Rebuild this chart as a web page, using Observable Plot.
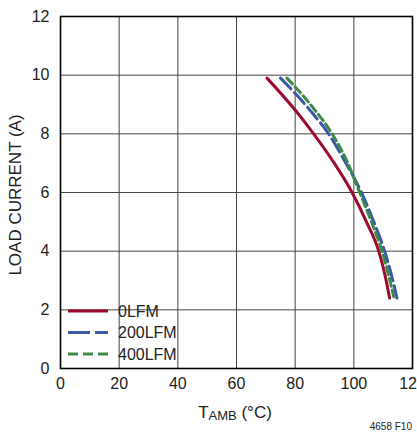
<!DOCTYPE html>
<html><head><meta charset="utf-8">
<script src="https://cdn.jsdelivr.net/npm/d3@7"></script>
<script src="https://cdn.jsdelivr.net/npm/@observablehq/plot@0.6"></script>
<style>
body{margin:0;background:#fff;}
#chart{position:relative;width:417px;height:437px;}
svg{font-family:"Liberation Sans Narrow","Arial Narrow","Liberation Sans",sans-serif;}
</style></head>
<body><div id="chart"></div>
<script>
const seriesNames = ["0LFM","200LFM","400LFM"];
const seriesColors = ["#9b0b2f","#3b58a8","#3c8a48"];
const seriesDash = [null,"15,5","8,4"];
const t0 = [70.4,80,86.3,93,99.4,104.3,108.5,110.7,112.2];
const i0 = [9.9,8.81,8.0,7.05,6.0,5.0,4.0,3.15,2.4];
const t200 = [75,80,85.5,91.4,97,102.6,106.8,110.5,112.8,114.7];
const i200 = [9.9,9.38,8.75,8.0,7.05,6.0,5.0,4.0,3.2,2.4];
const t400 = [77.2,80,86,92.6,97.5,102,106,109.6,111.8,113.6];
const i400 = [9.9,9.6,8.9,8.0,7.1,6.0,5.0,4.0,3.2,2.45];
const xTicks = [0,20,40,60,80,100,120];
const yTicks = [0,2,4,6,8,10,12];

const rows = [];
[[t0,i0],[t200,i200],[t400,i400]].forEach(([t,i],k)=>{
  t.forEach((v,j)=>rows.push({s:seriesNames[k],t:v,i:i[j]}));
});

const marks = [
  Plot.gridX(xTicks,{stroke:"#444",strokeOpacity:1,strokeWidth:1}),
  Plot.gridY(yTicks,{stroke:"#444",strokeOpacity:1,strokeWidth:1}),
  Plot.frame({stroke:"#000",strokeWidth:1.6}),
  Plot.axisX({ticks:xTicks,tickSize:0,tickPadding:9,label:null,fontSize:16,fill:"#222"}),
  Plot.axisY({ticks:yTicks,tickSize:0,tickPadding:11,label:null,fontSize:16,fill:"#222"})
];
seriesNames.forEach((n,k)=>{
  marks.push(Plot.line(rows.filter(r=>r.s===n),{x:"t",y:"i",stroke:seriesColors[k],strokeWidth:3,curve:"monotone-x",strokeDasharray:seriesDash[k]}));
});

const chart = Plot.plot({
  width:417,height:437,
  marginLeft:60,marginTop:16,marginRight:5,marginBottom:69,
  x:{domain:[0,120]},
  y:{domain:[0,12]},
  marks
});
document.getElementById("chart").appendChild(chart);

const svg = d3.select(chart);
// legend
const lg = svg.append("g").attr("text-anchor","start");
seriesNames.forEach((n,k)=>{
  const y = 311 + k*21.5;
  lg.append("line").attr("x1",68).attr("x2",108).attr("y1",y).attr("y2",y)
    .attr("stroke",seriesColors[k]).attr("stroke-width",3)
    .attr("stroke-dasharray",k===1?"22,5":(k===2?"10,5":null));
  lg.append("text").attr("x",118).attr("y",y).attr("dy","0.35em").attr("text-anchor","start")
    .attr("font-size",16).attr("fill","#222").text(n);
});
// x label
const xl = svg.append("text").attr("x",235).attr("y",418).attr("text-anchor","middle")
  .attr("font-size",17).attr("fill","#222");
xl.append("tspan").text("T");
xl.append("tspan").attr("font-size",13).attr("dy",2).text("AMB");
xl.append("tspan").attr("dy",-2).text(" (°C)");
// y label
svg.append("text").attr("transform","translate(21,195) rotate(-90)").attr("text-anchor","middle")
  .attr("font-size",17).attr("fill","#222").text("LOAD CURRENT (A)");
// figure id
svg.append("text").attr("x",412).attr("y",430).attr("text-anchor","end")
  .attr("font-size",10).attr("fill","#222").text("4658 F10");
</script></body></html>
